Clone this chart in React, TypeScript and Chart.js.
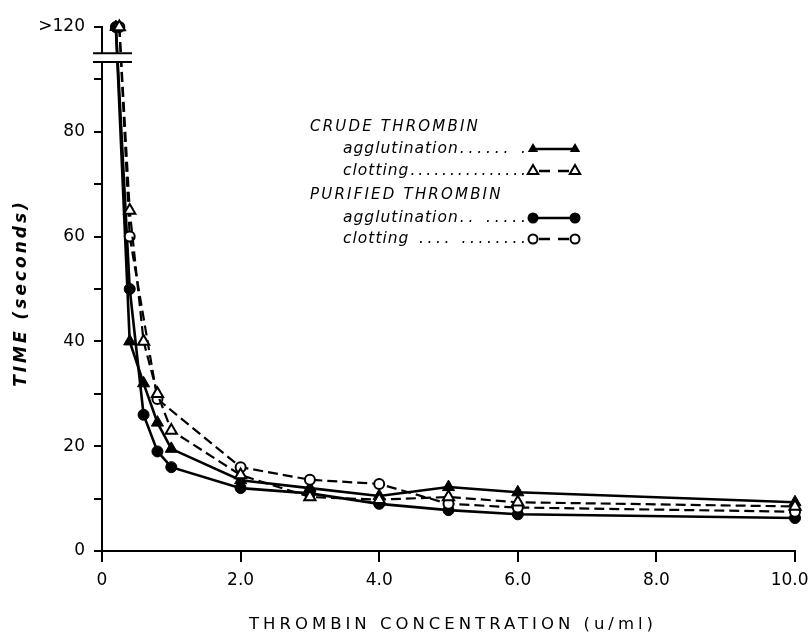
import React, { useEffect, useRef } from 'react';
import { Chart, registerables } from 'chart.js';

Chart.register(...registerables);

// ">120" values are stored as 120 and drawn at the broken top of the axis
const OVER = 120;
const OVER_POS = 100;

const crudeAggX = [0.2, 0.4, 0.6, 0.8, 1.0, 2.0, 3.0, 4.0, 5.0, 6.0, 10.0];
const crudeAggY = [120, 40, 32, 24.5, 19.5, 13.5, 12, 10.5, 12.2, 11.2, 9.3];

const crudeClotX = [0.25, 0.4, 0.6, 0.8, 1.0, 2.0, 3.0, 4.0, 5.0, 6.0, 10.0];
const crudeClotY = [120, 65, 40, 30, 23, 14.5, 10.3, 9.8, 10.3, 9.3, 8.5];

const purAggX = [0.2, 0.4, 0.6, 0.8, 1.0, 2.0, 3.0, 4.0, 5.0, 6.0, 10.0];
const purAggY = [120, 50, 26, 19, 16, 12, 11, 9, 7.8, 7, 6.3];

const purClotX = [0.25, 0.4, 0.8, 2.0, 3.0, 4.0, 5.0, 6.0, 10.0];
const purClotY = [120, 60, 29, 16, 13.6, 12.8, 9, 8.3, 7.5];

const xTicks = [0, 2, 4, 6, 8, 10];
const yLabelled = [0, 20, 40, 60, 80];

const FONT = '"DejaVu Sans", sans-serif';

export default function App() {
  const ref = useRef<HTMLCanvasElement>(null);

  useEffect(() => {
    const canvas = ref.current!;
    const toPos = (v: number) => (v >= OVER ? OVER_POS : v);
    const mk = (xs: number[], ys: number[]) => xs.map((x, i) => ({ x, y: toPos(ys[i]) }));

    const decor = {
      id: 'decor',
      afterDatasetsDraw(chart: any) {
        const ctx = chart.ctx as CanvasRenderingContext2D;
        const y = chart.scales.y;
        const y1 = y.getPixelForValue(95);
        const y2 = y.getPixelForValue(93.3);
        ctx.save();
        ctx.fillStyle = '#fff';
        ctx.fillRect(92, y1, 42, y2 - y1);
        ctx.strokeStyle = '#000';
        ctx.lineWidth = 2;
        ctx.beginPath();
        ctx.moveTo(93, y1); ctx.lineTo(132, y1);
        ctx.moveTo(93, y2); ctx.lineTo(132, y2);
        ctx.stroke();
        ctx.restore();
      },
      afterDraw(chart: any) {
        const ctx = chart.ctx as CanvasRenderingContext2D;
        ctx.save();
        ctx.fillStyle = '#000';
        ctx.strokeStyle = '#000';
        // x title
        (ctx as any).letterSpacing = '4px';
        ctx.font = `16.5px ${FONT}`;
        ctx.textAlign = 'center';
        ctx.textBaseline = 'middle';
        ctx.fillText('THROMBIN CONCENTRATION (u/ml)', 453, 625);
        // y title
        ctx.save();
        ctx.translate(22, 293);
        ctx.rotate(-Math.PI / 2);
        (ctx as any).letterSpacing = '3px';
        ctx.font = `italic bold 17px ${FONT}`;
        ctx.fillText('TIME (seconds)', 0, 0);
        ctx.restore();

        // legend
        ctx.textAlign = 'left';
        ctx.textBaseline = 'middle';
        ctx.font = `italic 15px ${FONT}`;
        (ctx as any).letterSpacing = '2.2px';
        ctx.fillText('CRUDE THROMBIN', 310, 127);
        ctx.fillText('PURIFIED THROMBIN', 310, 195);
        ctx.font = `italic 15.5px ${FONT}`;
        const rows: [string, string, number, string, boolean][] = [
          ['agglutination', '...... .', 149, 'tri', true],
          ['clotting', '...............', 171, 'tri', false],
          ['agglutination', '.. .....', 218, 'cir', true],
          ['clotting', ' .... ........', 239, 'cir', false],
        ];
        const xa = 533, xb = 575;
        const dotsEnd = 526;
        for (const [word, dots, yy, shape, filled] of rows) {
          (ctx as any).letterSpacing = '1px';
          ctx.fillText(word, 343, yy);
          const start = 343 + ctx.measureText(word).width + 1;
          (ctx as any).letterSpacing = '0px';
          const base = ctx.measureText(dots).width;
          const ls = Math.max(0, (dotsEnd - start - base) / Math.max(1, dots.length - 1));
          (ctx as any).letterSpacing = `${ls}px`;
          ctx.fillText(dots, start, yy);
          ctx.lineWidth = 2.5;
          ctx.beginPath();
          if (filled) {
            ctx.moveTo(xa, yy); ctx.lineTo(xb, yy);
          } else {
            ctx.moveTo(xa + 6, yy); ctx.lineTo(xa + 17, yy);
            ctx.moveTo(xb - 17, yy); ctx.lineTo(xb - 6, yy);
          }
          ctx.stroke();
          for (const cx of [xa, xb]) {
            ctx.beginPath();
            if (shape === 'tri') {
              const r = 6;
              ctx.moveTo(cx, yy - r);
              ctx.lineTo(cx + r * 0.87, yy + r * 0.5);
              ctx.lineTo(cx - r * 0.87, yy + r * 0.5);
              ctx.closePath();
            } else {
              ctx.arc(cx, yy, filled ? 5.5 : 4.5, 0, Math.PI * 2);
            }
            if (filled) {
              ctx.fillStyle = '#000';
              ctx.fill();
            } else {
              ctx.fillStyle = '#fff';
              ctx.fill();
              ctx.lineWidth = 2;
              ctx.stroke();
              ctx.fillStyle = '#000';
            }
          }
        }
        ctx.restore();
      },
    };

    const chart = new Chart(canvas, {
      type: 'line',
      data: {
        datasets: [
          {
            label: 'Crude thrombin clotting',
            data: mk(crudeClotX, crudeClotY),
            borderColor: '#000', borderWidth: 2.2, borderDash: [10, 5],
            pointStyle: 'triangle', pointRadius: 6.5,
            pointBackgroundColor: '#fff', pointBorderColor: '#000', pointBorderWidth: 2,
          },
          {
            label: 'Purified thrombin clotting',
            data: mk(purClotX, purClotY),
            borderColor: '#000', borderWidth: 2.2, borderDash: [10, 5],
            pointStyle: 'circle', pointRadius: 5,
            pointBackgroundColor: '#fff', pointBorderColor: '#000', pointBorderWidth: 2,
          },
          {
            label: 'Crude thrombin agglutination',
            data: mk(crudeAggX, crudeAggY),
            borderColor: '#000', borderWidth: 2.6,
            pointStyle: 'triangle', pointRadius: 7,
            pointBackgroundColor: '#000', pointBorderColor: '#000', pointBorderWidth: 1,
          },
          {
            label: 'Purified thrombin agglutination',
            data: mk(purAggX, purAggY),
            borderColor: '#000', borderWidth: 2.6,
            pointStyle: 'circle', pointRadius: 5.5,
            pointBackgroundColor: '#000', pointBorderColor: '#000', pointBorderWidth: 1,
          },
        ] as any,
      },
      options: {
        responsive: false,
        animation: false,
        devicePixelRatio: 1,
        clip: false as any,
        layout: { padding: { left: 0, top: 27, right: 17, bottom: 49 } },
        plugins: { legend: { display: false }, tooltip: { enabled: false } },
        elements: { line: { tension: 0, fill: false } },
        scales: {
          x: {
            type: 'linear', min: 0, max: 10,
            afterFit: (s: any) => { s.height = 40; s.paddingLeft = 0; s.paddingRight = 0; },
            afterBuildTicks: (s: any) => { s.ticks = xTicks.map((v) => ({ value: v })); },
            ticks: {
              color: '#000', padding: 8,
              font: { family: FONT, size: 17 },
              callback: (v: any) => (v === 0 ? '0' : v === 10 ? '10.0  ' : Number(v).toFixed(1)),
            },
            grid: { drawOnChartArea: false, drawTicks: true, tickLength: 11, color: '#000', lineWidth: 2 },
            border: { display: true, color: '#000', width: 2 },
          },
          y: {
            type: 'linear', min: 0, max: 100,
            afterFit: (s: any) => { s.width = 102; s.paddingTop = 0; s.paddingBottom = 0; },
            ticks: {
              stepSize: 10, autoSkip: false, color: '#000', padding: 9,
              font: { family: FONT, size: 17 },
              callback: (v: any) => (v === OVER_POS ? '>' + OVER : yLabelled.includes(v) ? String(v) : ''),
            },
            grid: { drawOnChartArea: false, drawTicks: true, tickLength: 8, color: '#000', lineWidth: 2 },
            border: { display: true, color: '#000', width: 2 },
          },
        },
      } as any,
      plugins: [decor],
    });
    return () => chart.destroy();
  }, []);

  return (
    <div style={{ position: 'fixed', left: 0, top: 0, width: 812, height: 640, background: '#fff' }}>
      <canvas ref={ref} width={812} height={640} style={{ display: 'block' }} />
    </div>
  );
}
